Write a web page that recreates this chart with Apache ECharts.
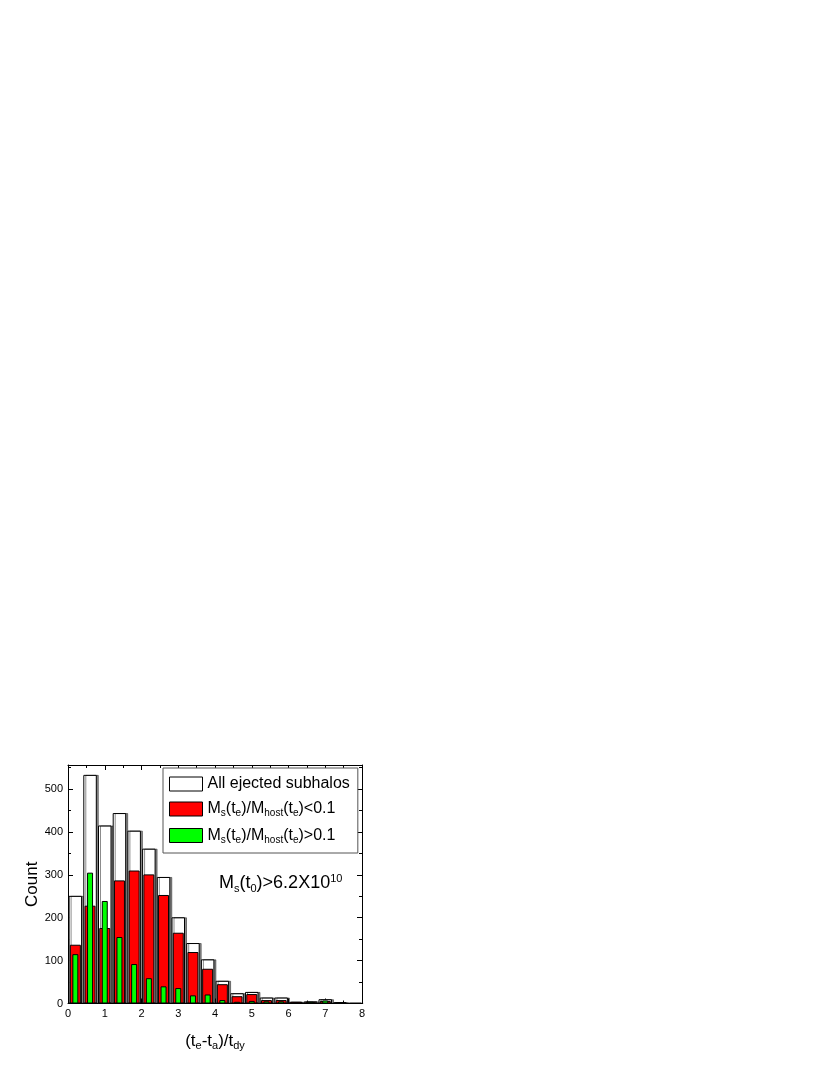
<!DOCTYPE html>
<html>
<head>
<meta charset="utf-8">
<script src="https://cdn.jsdelivr.net/npm/echarts@6/dist/echarts.min.js"></script>
<style>html,body{margin:0;padding:0;background:#fff;}#c{width:830px;height:1075px;}</style>
</head>
<body>
<div id="c"></div>
<script>
const binCenters = [0.2,0.6,1.0,1.4,1.8,2.2,2.6,3.0,3.4,3.8,4.2,4.6,5.0,5.4,5.8,6.2,6.6,7.0,7.4,7.8];
const allEjected = [251,533,415,444,403,361,295,201,141,103,53,24,27,14,14,4,5,10,3,1];
const ratioLow   = [137,228,176,287,310,301,253,165,120,81,45,17,22,8,8,4,3,6,2,0];
const ratioHigh  = [115,305,239,155,92,59,40,36,19,21,8,4,6,5,5,1,4,7,2,0];
const xTicks = [0,1,2,3,4,5,6,7,8];
const yTicks = [0,100,200,300,400,500];

const pair = arr => binCenters.map((x,i)=>[x,arr[i]]);
const FONT = 'Liberation Sans';
const sub = {fontSize: 10, fontFamily: FONT, color:'#000', verticalAlign:'bottom', padding:[9,0,0,0]};
const base = {fontSize: 16, fontFamily: FONT, color:'#000'};

const chart = echarts.init(document.getElementById('c'), null, {renderer:'canvas'});
const xBase = {type:'value', min:0, max:8, interval:1};
const axisLine = {show:true, onZero:false, lineStyle:{color:'#000', width:1}};
const tick = {show:true, inside:true, length:5, lineStyle:{color:'#000'}};
const minor = {show:true, splitNumber:2, length:3, lineStyle:{color:'#000'}};
chart.setOption({
  animation:false,
  grid:{left:68, right:468, top:765, bottom:71.5, containLabel:false},
  xAxis:[
    Object.assign({}, xBase, {position:'bottom', axisLine, splitLine:{show:false},
      axisTick:tick, minorTick:minor,
      axisLabel:{show:true, fontSize:11, fontFamily:FONT, color:'#000', margin:5,
        formatter: v => xTicks.includes(v) ? String(v) : ''},
      name:'(t{s|e}-t{s|a})/t{s|dy}', nameLocation:'middle', nameGap:28,
      nameTextStyle:{fontSize:17, fontFamily:FONT, color:'#000', rich:{s:{fontSize:11, fontFamily:FONT, color:'#000', verticalAlign:'bottom', padding:[9,0,0,0]}}}}),
    Object.assign({}, xBase, {position:'top', axisLine, splitLine:{show:false},
      axisTick:tick, minorTick:minor, axisLabel:{show:false}}),
    Object.assign({}, xBase, {show:false})
  ],
  yAxis:[
    {type:'value', min:0, max:556, interval:100, position:'left', axisLine, splitLine:{show:false},
      axisTick:tick, minorTick:minor,
      axisLabel:{fontSize:11, fontFamily:FONT, color:'#000', margin:5, showMaxLabel:false,
        formatter: v => yTicks.includes(v) ? String(v) : ''},
      name:'Count', nameLocation:'middle', nameGap:25, nameRotate:90,
      nameTextStyle:{fontSize:17, fontFamily:FONT, color:'#000'}},
    {type:'value', min:0, max:556, interval:100, position:'right', axisLine, splitLine:{show:false},
      axisTick:tick, minorTick:minor, axisLabel:{show:false}}
  ],
  legend:{
    orient:'vertical', left:163, top:768, itemWidth:33, itemHeight:14, itemGap:9,
    padding:[8,8,8,6], borderColor:'#555', borderWidth:1, backgroundColor:'#fff',
    icon:'rect',
    textStyle:Object.assign({}, base, {rich:{s:sub}}),
    data:[
      {name:'All ejected subhalos', itemStyle:{color:'#fff', borderColor:'#000', borderWidth:1, shadowBlur:0, shadowOffsetX:0, shadowColor:'transparent'}},
      {name:'M{s|s}(t{s|e})/M{s|host}(t{s|e})<0.1', itemStyle:{color:'#ff0000', borderColor:'#000', borderWidth:1}},
      {name:'M{s|s}(t{s|e})/M{s|host}(t{s|e})>0.1', itemStyle:{color:'#00ff00', borderColor:'#000', borderWidth:1}}
    ]
  },
  graphic:[{
    type:'text', left:219, top:873, z:100,
    style:{text:'M{s|s}(t{s|0})>6.2X10{p|10}', fontSize:18, fontFamily:FONT, fill:'#000',
      rich:{s:{fontSize:11, fontFamily:FONT, verticalAlign:'bottom', padding:[10,0,0,0]},
            p:{fontSize:11, fontFamily:FONT, verticalAlign:'top', padding:[0,0,9,0]}}}
  }],
  series:[
    {name:'All ejected subhalos', type:'bar', xAxisIndex:0, yAxisIndex:0, data:pair(allEjected), barWidth:13.5,
      itemStyle:{color:'#fff', borderColor:'#000', borderWidth:1, shadowColor:'rgba(0,0,0,0.45)', shadowOffsetX:2, shadowOffsetY:0, shadowBlur:0}, z:2},
    {name:'M{s|s}(t{s|e})/M{s|host}(t{s|e})<0.1', type:'bar', xAxisIndex:1, yAxisIndex:0, data:pair(ratioLow), barWidth:11,
      itemStyle:{color:'#ff0000', borderColor:'#000', borderWidth:1}, z:3},
    {name:'M{s|s}(t{s|e})/M{s|host}(t{s|e})>0.1', type:'bar', xAxisIndex:2, yAxisIndex:0, data:pair(ratioHigh), barWidth:6,
      itemStyle:{color:'#00ff00', borderColor:'#000', borderWidth:1}, z:4}
  ]
});
</script>
</body>
</html>
